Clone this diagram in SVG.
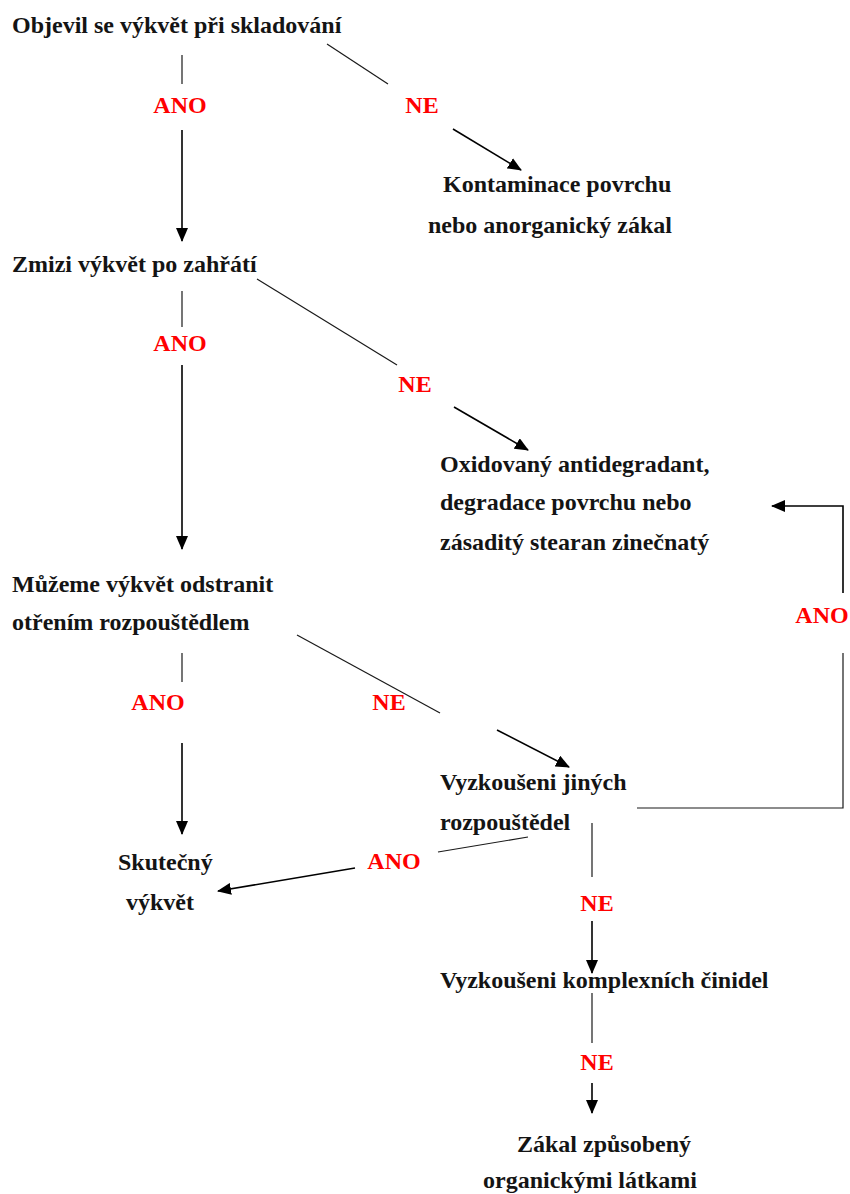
<svg xmlns="http://www.w3.org/2000/svg" width="850" height="1194" viewBox="0 0 850 1194">
<style>
.t{font-family:"Liberation Serif","Times New Roman",serif;font-weight:bold;font-size:24px;fill:#141414}
.l{font-family:"Liberation Serif","Times New Roman",serif;font-weight:bold;font-size:24px;fill:#ff0000;text-anchor:middle}
.c{stroke:#1a1a1a;stroke-width:1.2;fill:none}
.a{stroke:#000;stroke-width:1.6;fill:none;marker-end:url(#ah)}
</style>
<defs>
<marker id="ah" markerUnits="userSpaceOnUse" markerWidth="14" markerHeight="12" refX="13" refY="6" orient="auto">
<path d="M0,0 L14,6 L0,12 Z" fill="#000"/>
</marker>
</defs>
<rect width="850" height="1194" fill="#fff"/>
<g id="connectors">
<line class="c" x1="182" y1="55" x2="182" y2="84"/>
<line class="a" x1="182" y1="130" x2="182" y2="241"/>
<line class="c" x1="327" y1="44" x2="388" y2="84"/>
<line class="a" x1="453" y1="129" x2="521" y2="170"/>
<line class="c" x1="182" y1="291" x2="182" y2="327"/>
<line class="a" x1="182" y1="365" x2="182" y2="549"/>
<line class="c" x1="257" y1="279" x2="397" y2="365"/>
<line class="a" x1="454" y1="407" x2="528" y2="450"/>
<line class="c" x1="182" y1="653" x2="182" y2="682"/>
<line class="a" x1="182" y1="743" x2="182" y2="834"/>
<line class="c" x1="297" y1="635" x2="440" y2="713"/>
<line class="a" x1="497" y1="730" x2="569" y2="767"/>
<line class="c" x1="528" y1="837" x2="438" y2="852"/>
<line class="a" x1="355" y1="868" x2="218" y2="891"/>
<line class="c" x1="592" y1="823" x2="592" y2="877"/>
<line class="a" x1="592" y1="921" x2="592" y2="973"/>
<line class="c" x1="592" y1="993" x2="592" y2="1043"/>
<line class="a" x1="592" y1="1083" x2="592" y2="1113"/>
<polyline class="c" points="637,808 843,808 843,653"/>
<polyline class="a" points="843,593 843,506 772,506"/>
<text class="l" x="180" y="113">ANO</text>
<text class="l" x="422" y="113">NE</text>
<text class="l" x="180" y="351">ANO</text>
<text class="l" x="415" y="392">NE</text>
<text class="l" x="158" y="710">ANO</text>
<text class="l" x="389" y="710">NE</text>
<text class="l" x="822" y="623">ANO</text>
<text class="l" x="394" y="869">ANO</text>
<text class="l" x="597" y="911">NE</text>
<text class="l" x="597" y="1070">NE</text>
</g>
<g id="n1"><text class="t" x="12" y="33">Objevil se výkvět při skladování</text></g>
<g id="n2"><text class="t" x="443" y="192">Kontaminace povrchu</text><text class="t" x="428" y="233">nebo anorganický zákal</text></g>
<g id="n3"><text class="t" x="12" y="272">Zmizi výkvět po zahřátí</text></g>
<g id="n4"><text class="t" x="440" y="472">Oxidovaný antidegradant,</text><text class="t" x="440" y="510">degradace povrchu nebo</text><text class="t" x="440" y="550">zásaditý stearan zinečnatý</text></g>
<g id="n5"><text class="t" x="12" y="592">Můžeme výkvět odstranit</text><text class="t" x="12" y="630">otřením rozpouštědlem</text></g>
<g id="n6"><text class="t" x="440" y="790">Vyzkoušeni jiných</text><text class="t" x="440" y="830">rozpouštědel</text></g>
<g id="n7"><text class="t" x="118" y="870">Skutečný</text><text class="t" x="126" y="910">výkvět</text></g>
<g id="n8"><text class="t" x="440" y="988">Vyzkoušeni komplexních činidel</text></g>
<g id="n9"><text class="t" x="517" y="1152">Zákal způsobený</text><text class="t" x="483" y="1188">organickými látkami</text></g>
</svg>
